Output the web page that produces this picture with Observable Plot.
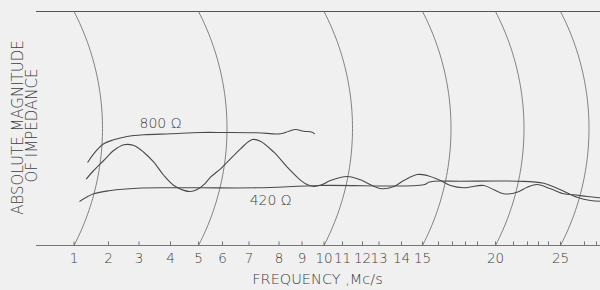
<!DOCTYPE html>
<html><head><meta charset="utf-8">
<script src="https://cdn.jsdelivr.net/npm/d3@7"></script>
<script src="https://cdn.jsdelivr.net/npm/@observablehq/plot@0.6"></script>
<style>
html,body{margin:0;padding:0;background:#f0f0f0;}
</style></head><body><div id="chart"></div>
<script>
// ---- data ----
const labeledTicks = [1,2,3,4,5,6,7,8,9,10,11,12,13,14,15,20,25];
const minorTicks = [16,17,18,19,21,22,23,24,27,28];
const arcFreqs = [1,5,10,15,20,25];

const freq800 = [1.40,1.57,1.86,2.17,2.61,3.15,4.0,5.08,6.04,7.27,8.07,8.43,8.72,9.08,9.46,9.57];
const ohm800  = [583,642,712,740,763,775,782,791,791,789,782,800,812,800,793,782];

const freqWave = [1.36,1.57,1.86,2.17,2.50,2.83,3.15,3.47,3.79,4.12,4.48,4.7,4.95,5.25,5.5,5.92,6.18,6.68,7.11,7.38,7.83,8.36,8.79,9.16,9.54,9.92,10.35,11.24,11.9,12.59,13.14,13.66,14.11,14.75,15.29,16.14,16.86,17.87,19.35,19.91,20.46,21.26,21.98,22.88,24.17,25.28,26.11,27.23,28.33];
const ohmWave  = [467,525,595,665,705,700,653,583,490,420,386,378,392,430,478,537,583,677,742,730,653,548,478,432,413,427,455,483,460,420,397,413,455,497,490,455,420,404,420,390,362,373,408,427,397,362,355,343,334];

const freq420 = [1.17,1.57,2.07,2.94,4.0,5.08,7.27,9.84,15.08,15.39,15.71,17.62,21.26,23.53,25.0,26.39,27.5,28.33];
const ohm420  = [310,362,385,401,404,404,404,420,425,443,450,450,450,436,390,338,315,310];

const curveLabels = [{f: 3.68, o: 854, t: "800 Ω"}, {f: 7.72, o: 315, t: "420 Ω"}];

// ---- scales (recorder calibration) ----
const scaleFreqs = [1,2,3,4,5,6,7,8,9,10,11,12,13,14,15,16,17,18,19,20,21,22,23,24,25,26,27,28];
const xRange = [73.5,108,138.5,170,198,222,248.5,278.5,301.5,323.5,342,362,378.5,401,422,438,452,465,477,495,513,527,538,548,560,572,584,596];
const yDomain = [0, 1638];
const yRange = [245, 11];

const xs = Plot.scale({x: {type: "linear", domain: scaleFreqs, range: xRange}});
const ys = Plot.scale({y: {type: "linear", domain: yDomain, range: yRange}});

// recorder pen arcs through the calibration frequencies
const R = 254.4, sagMax = 28.5, yMid = (yRange[0] + yRange[1]) / 2;
const arcData = [];
for (const f of arcFreqs) {
  const n = 60;
  for (let i = 0; i <= n; i++) {
    const o = yDomain[0] + (yDomain[1] - yDomain[0]) * i / n;
    const py = ys.apply(o);
    const d = py - yMid;
    const off = sagMax - (R - Math.sqrt(R * R - d * d));
    arcData.push({arc: f, f: xs.invert(xs.apply(f) + off), o});
  }
}

const t800 = freq800.map((f, i) => ({f, o: ohm800[i]}));
const tWave = freqWave.map((f, i) => ({f, o: ohmWave[i]}));
const t420 = freq420.map((f, i) => ({f, o: ohm420[i]}));

const font = "'DejaVu Sans', sans-serif";
const fw = 200;
const ink = "#4a4a4a";
const txt = "#3e3e3e";

const chart = Plot.plot({
  width: 600,
  height: 290,
  marginLeft: 36,
  marginRight: 0,
  marginTop: 11,
  marginBottom: 45,
  style: {background: "#f0f0f0", fontFamily: font},
  x: {type: "linear", domain: scaleFreqs, range: xRange, axis: null},
  y: {type: "linear", domain: yDomain, range: yRange, axis: null},
  marks: [
    Plot.ruleY([yDomain[1]], {stroke: "#555", strokeWidth: 1}),
    Plot.ruleY([yDomain[0]], {stroke: "#666", strokeWidth: 0.9}),
    Plot.ruleX([...labeledTicks, ...minorTicks], {x: d => d, y1: 0, y2: 25, stroke: "#666", strokeWidth: 0.9}),
    Plot.line(arcData, {x: "f", y: "o", z: "arc", stroke: "#666", strokeWidth: 0.8, curve: "linear"}),
    Plot.line(t800, {x: "f", y: "o", stroke: ink, strokeWidth: 1.1, curve: "catmull-rom"}),
    Plot.line(tWave, {x: "f", y: "o", stroke: ink, strokeWidth: 1.1, curve: "catmull-rom"}),
    Plot.line(t420, {x: "f", y: "o", stroke: ink, strokeWidth: 1.1, curve: "catmull-rom"}),
    Plot.text(curveLabels, {x: "f", y: "o", text: "t", fontSize: 14, fill: txt, fontFamily: font, fontWeight: fw, letterSpacing: 0.5}),
    Plot.text(labeledTicks, {x: d => d, y: 0, dy: 13, text: d => String(d), fontSize: 13.5, fill: txt, fontFamily: font, fontWeight: fw, letterSpacing: -0.4}),
    Plot.text(["FREQUENCY ,Mc/s"], {frameAnchor: "bottom", dx: -1, dy: 38, fontSize: 14.5, fill: txt, fontFamily: font, fontWeight: fw, letterSpacing: 1}),
    Plot.text(["ABSOLUTE MAGNITUDE"], {frameAnchor: "left", textAnchor: "middle", dx: -18.5, dy: -1, rotate: -90, fontSize: 15, fill: txt, fontFamily: font, fontWeight: fw, letterSpacing: 0.6}),
    Plot.text(["OF IMPEDANCE"], {frameAnchor: "left", textAnchor: "middle", dx: -4.5, dy: -3, rotate: -90, fontSize: 15, fill: txt, fontFamily: font, fontWeight: fw, letterSpacing: 0.6})
  ]
});
document.getElementById("chart").appendChild(chart);
</script>
</body></html>
